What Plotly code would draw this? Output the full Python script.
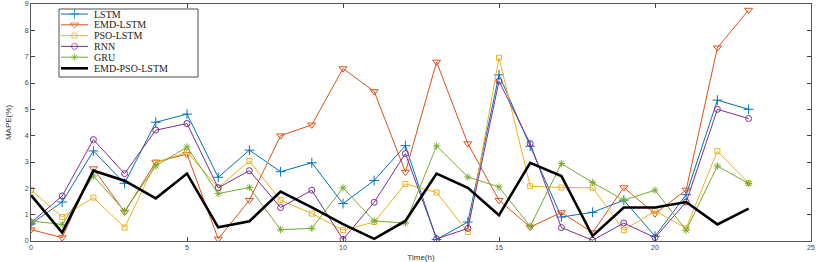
import plotly.graph_objects as go

hours = list(range(24))
series_names = ["LSTM", "EMD-LSTM", "PSO-LSTM", "RNN", "GRU", "EMD-PSO-LSTM"]

lstm = [0.65, 1.48, 3.42, 2.19, 4.51, 4.82, 2.42, 3.45, 2.63, 2.97, 1.42, 2.30, 3.62, 0.06, 0.72, 6.31,
        3.60, 0.91, 1.09, 1.55, 0.18, 1.76, 5.35, 5.00]
emd_lstm = [0.43, 0.13, 2.75, 1.10, 3.00, 3.30, 0.08, 1.55, 4.00, 4.41, 6.55, 5.68, 2.62, 6.80, 3.70, 1.55,
            0.53, 1.08, 0.32, 2.03, 1.04, 1.94, 7.34, 8.77]
pso_lstm = [1.94, 0.91, 1.65, 0.51, 2.98, 3.37, 2.03, 3.04, 1.55, 1.04, 0.41, 0.72, 2.17, 1.84, 0.34, 6.96,
            2.08, 2.03, 2.02, 0.41, 1.14, 0.49, 3.41, 2.20]
rnn = [0.70, 1.71, 3.85, 2.56, 4.21, 4.46, 2.02, 2.67, 1.27, 1.93, 0.06, 1.47, 3.32, 0.08, 0.48, 6.07,
       3.70, 0.51, 0.03, 0.68, 0.13, 1.48, 5.00, 4.65]
gru = [0.76, 0.63, 2.47, 1.14, 2.85, 3.57, 1.80, 2.03, 0.43, 0.48, 2.02, 0.76, 0.68, 3.61, 2.43, 2.05,
       0.56, 2.94, 2.22, 1.55, 1.93, 0.41, 2.85, 2.18]
emd_pso_lstm = [1.74, 0.32, 2.67, 2.29, 1.62, 2.56, 0.52, 0.75, 1.88, 1.28, 0.64, 0.08, 0.76, 2.56, 2.02, 0.98,
                2.97, 2.47, 0.19, 1.27, 1.27, 1.48, 0.63, 1.23]

values = [lstm, emd_lstm, pso_lstm, rnn, gru, emd_pso_lstm]
colors = ["#0072BD", "#D95319", "#EDB120", "#7E2F8E", "#77AC30", "#000000"]
symbols = ["cross-thin", "triangle-down-open", "square-open", "circle-open", "asterisk-open", None]
msizes = [7, 7, 5, 6, 6, 0]
widths = [1.0, 1.0, 1.0, 1.0, 1.0, 2.6]

x_ticks = [0, 5, 10, 15, 20, 25]
y_ticks = [0, 1, 2, 3, 4, 5, 6, 7, 8, 9]

fig = go.Figure()
for name, ys, c, s, ms, w in zip(series_names, values, colors, symbols, msizes, widths):
    if s is None:
        fig.add_trace(go.Scatter(x=hours, y=ys, mode="lines", name=name,
                                 line=dict(color=c, width=w), showlegend=False))
    else:
        fig.add_trace(go.Scatter(x=hours, y=ys, mode="lines+markers", name=name,
                                 line=dict(color=c, width=w),
                                 marker=dict(symbol=s, size=ms, color=c,
                                             line=dict(color=c, width=1)),
                                 showlegend=False))

# custom compact legend (MATLAB-style)
ML, MR, MT, MB = 31, 6, 4, 21
W, H = 817 - ML - MR, 262 - MT - MB
def px(x):
    return (x - ML) / W
def py(y):
    return (262 - MB - y) / H

fig.add_shape(type="rect", xref="paper", yref="paper",
              x0=px(59), x1=px(198), y0=py(77), y1=py(9),
              line=dict(color="#222", width=0.8), fillcolor="white", layer="below")
row_y = [14, 24.8, 35.6, 46.4, 57.2, 68.3]
for i, (name, c, s, ms, w) in enumerate(zip(series_names, colors, symbols, msizes, widths)):
    yy = py(row_y[i])
    if s is None:
        fig.add_trace(go.Scatter(x=[px(61), px(88)], y=[yy, yy], mode="lines",
                                 line=dict(color=c, width=w), xaxis="x2", yaxis="y2",
                                 showlegend=False, hoverinfo="skip"))
    else:
        fig.add_trace(go.Scatter(x=[px(61), px(74.5), px(88)], y=[yy, yy, yy], mode="lines+markers",
                                 line=dict(color=c, width=w),
                                 marker=dict(symbol=s, size=[0, ms, 0], color=c,
                                             line=dict(color=c, width=1)),
                                 xaxis="x2", yaxis="y2", showlegend=False, hoverinfo="skip"))
    fig.add_annotation(x=px(92), y=yy, xref="paper", yref="paper", text=name,
                       showarrow=False, xanchor="left", yanchor="middle",
                       font=dict(family="Liberation Serif, Times New Roman, serif", size=10, color="#222"))

axis_common = dict(showgrid=False, zeroline=False, showline=True, linecolor="#555", linewidth=0.8,
                   mirror="ticks", ticks="inside", ticklen=4, tickcolor="#444", tickwidth=0.8,
                   automargin=False,
                   tickfont=dict(family="Liberation Sans, Arial, sans-serif", size=7, color="#444"))

fig.update_layout(
    width=817, height=262,
    margin=dict(l=ML, r=MR, t=MT, b=MB),
    paper_bgcolor="white", plot_bgcolor="white",
    xaxis=dict(range=[0, 25], tickvals=x_ticks, title=dict(text="Time(h)", standoff=7,
               font=dict(family="Liberation Sans, Arial, sans-serif", size=8, color="#333")),
               **axis_common),
    yaxis=dict(range=[0, 9], tickvals=y_ticks, title=dict(text="MAPE(%)", standoff=11,
               font=dict(family="Liberation Sans, Arial, sans-serif", size=8, color="#333")),
               **axis_common),
    xaxis2=dict(range=[0, 1], overlaying="x", visible=False, fixedrange=True),
    yaxis2=dict(range=[0, 1], overlaying="y", visible=False, fixedrange=True),
    showlegend=False,
)

fig.write_html("out.html", config={"displayModeBar": False},
               post_script="document.body.style.margin='0px';document.body.style.overflow='hidden';")
